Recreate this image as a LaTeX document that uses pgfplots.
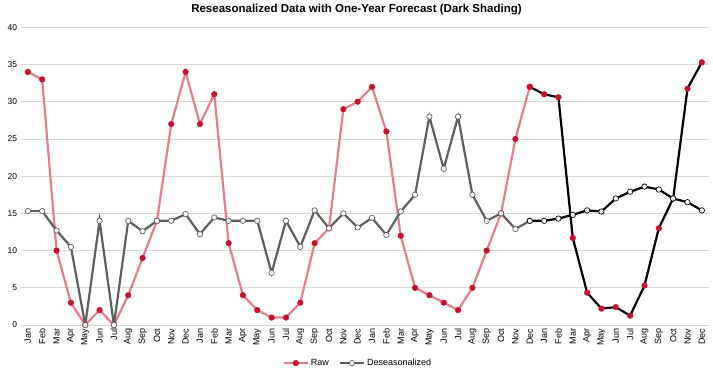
\documentclass[border=0pt]{standalone}
\usepackage{pgfplots}
\pgfplotsset{compat=1.18}
\usepackage{fontspec}
\setmainfont{Liberation Sans}
\definecolor{rawline}{HTML}{E67D8C}
\definecolor{rawmark}{HTML}{C8102E}
\definecolor{desline}{HTML}{5F5F5F}
\definecolor{gridc}{HTML}{D9D9D9}
\begin{document}
\begin{tikzpicture}
\useasboundingbox (0,0) rectangle (713bp,371bp);
\node[font=\fontsize{11.5bp}{13bp}\selectfont\bfseries] at (356.5bp,361bp) {Reseasonalized Data with One-Year Forecast (Dark Shading)};
\begin{axis}[
  at={(20.7bp,46bp)}, anchor=south west,
  scale only axis, width=688.3bp, height=297.7bp,
  xmin=-0.5, xmax=47.5, ymin=0, ymax=40,
  ytick={0,5,...,40},
  xtick={0,...,47},
  xticklabels={Jan,Feb,Mar,Apr,May,Jun,Jul,Aug,Sep,Oct,Nov,Dec,Jan,Feb,Mar,Apr,May,Jun,Jul,Aug,Sep,Oct,Nov,Dec,Jan,Feb,Mar,Apr,May,Jun,Jul,Aug,Sep,Oct,Nov,Dec,Jan,Feb,Mar,Apr,May,Jun,Jul,Aug,Sep,Oct,Nov,Dec},
  x tick label style={rotate=90, anchor=east, font=\fontsize{9bp}{10bp}\selectfont},
  y tick label style={font=\fontsize{8.5bp}{10bp}\selectfont},
  /pgf/number format/assume math mode=true,
  major tick length=0pt,
  ymajorgrids, grid style={gridc, line width=0.8bp},
  axis line style={draw=none},
  axis x line*=bottom, axis y line*=left,
  legend style={at={(0.49,-0.128)}, anchor=center, draw=none, legend columns=2,
    font=\fontsize{9bp}{10bp}\selectfont, /tikz/every even column/.append style={column sep=8bp}},
  legend image code/.code={\draw[#1, mark repeat=2, mark phase=2] plot coordinates {(0bp,0bp) (12bp,0bp) (24bp,0bp)};},
]
\draw[gridc, line width=0.8bp] (rel axis cs:0,0) -- (rel axis cs:1,0);
\addplot[rawline, line width=2.2bp, mark=*, mark size=2.8bp, mark options={fill=rawmark, draw=rawmark, line width=0.5bp}] coordinates {
(0,34)(1,33)(2,10)(3,3)(4,0)(5,2)(6,0)(7,4)(8,9)(9,14)(10,27)(11,34)
(12,27)(13,31)(14,11)(15,4)(16,2)(17,1)(18,1)(19,3)(20,11)(21,13)(22,29)(23,30)
(24,32)(25,26)(26,12)(27,5)(28,4)(29,3)(30,2)(31,5)(32,10)(33,15)(34,25)(35,32)};
\addlegendentry{Raw}
\addplot[desline, line width=2.2bp, mark=*, mark size=2.7bp, mark options={fill=white, draw=desline, line width=0.7bp}] coordinates {
(0,15.3)(1,15.3)(2,12.7)(3,10.5)(4,0)(5,14)(6,0)(7,14)(8,12.6)(9,14)(10,14)(11,14.9)
(12,12.2)(13,14.45)(14,14)(15,14)(16,14)(17,7)(18,14)(19,10.5)(20,15.4)(21,13)(22,15)(23,13.1)
(24,14.4)(25,12.1)(26,15.25)(27,17.5)(28,28)(29,21)(30,28)(31,17.5)(32,14)(33,15)(34,12.9)(35,14)};
\addlegendentry{Deseasonalized}
\addplot[black, line width=2.2bp, mark=*, mark size=2.8bp, mark options={fill=rawmark, draw=rawmark, line width=0.5bp}, forget plot] coordinates {
(35,32)(36,31)(37,30.6)(38,11.7)(39,4.35)(40,2.2)(41,2.4)(42,1.25)(43,5.3)(44,13)(45,17)(46,31.75)(47,35.3)};
\addplot[black, line width=2.2bp, mark=*, mark size=2.7bp, mark options={fill=white, draw=black, line width=0.7bp}, forget plot] coordinates {
(35,14)(36,14)(37,14.3)(38,14.8)(39,15.4)(40,15.25)(41,17)(42,17.9)(43,18.6)(44,18.2)(45,17)(46,16.5)(47,15.4)};
\end{axis}
\end{tikzpicture}
\end{document}
